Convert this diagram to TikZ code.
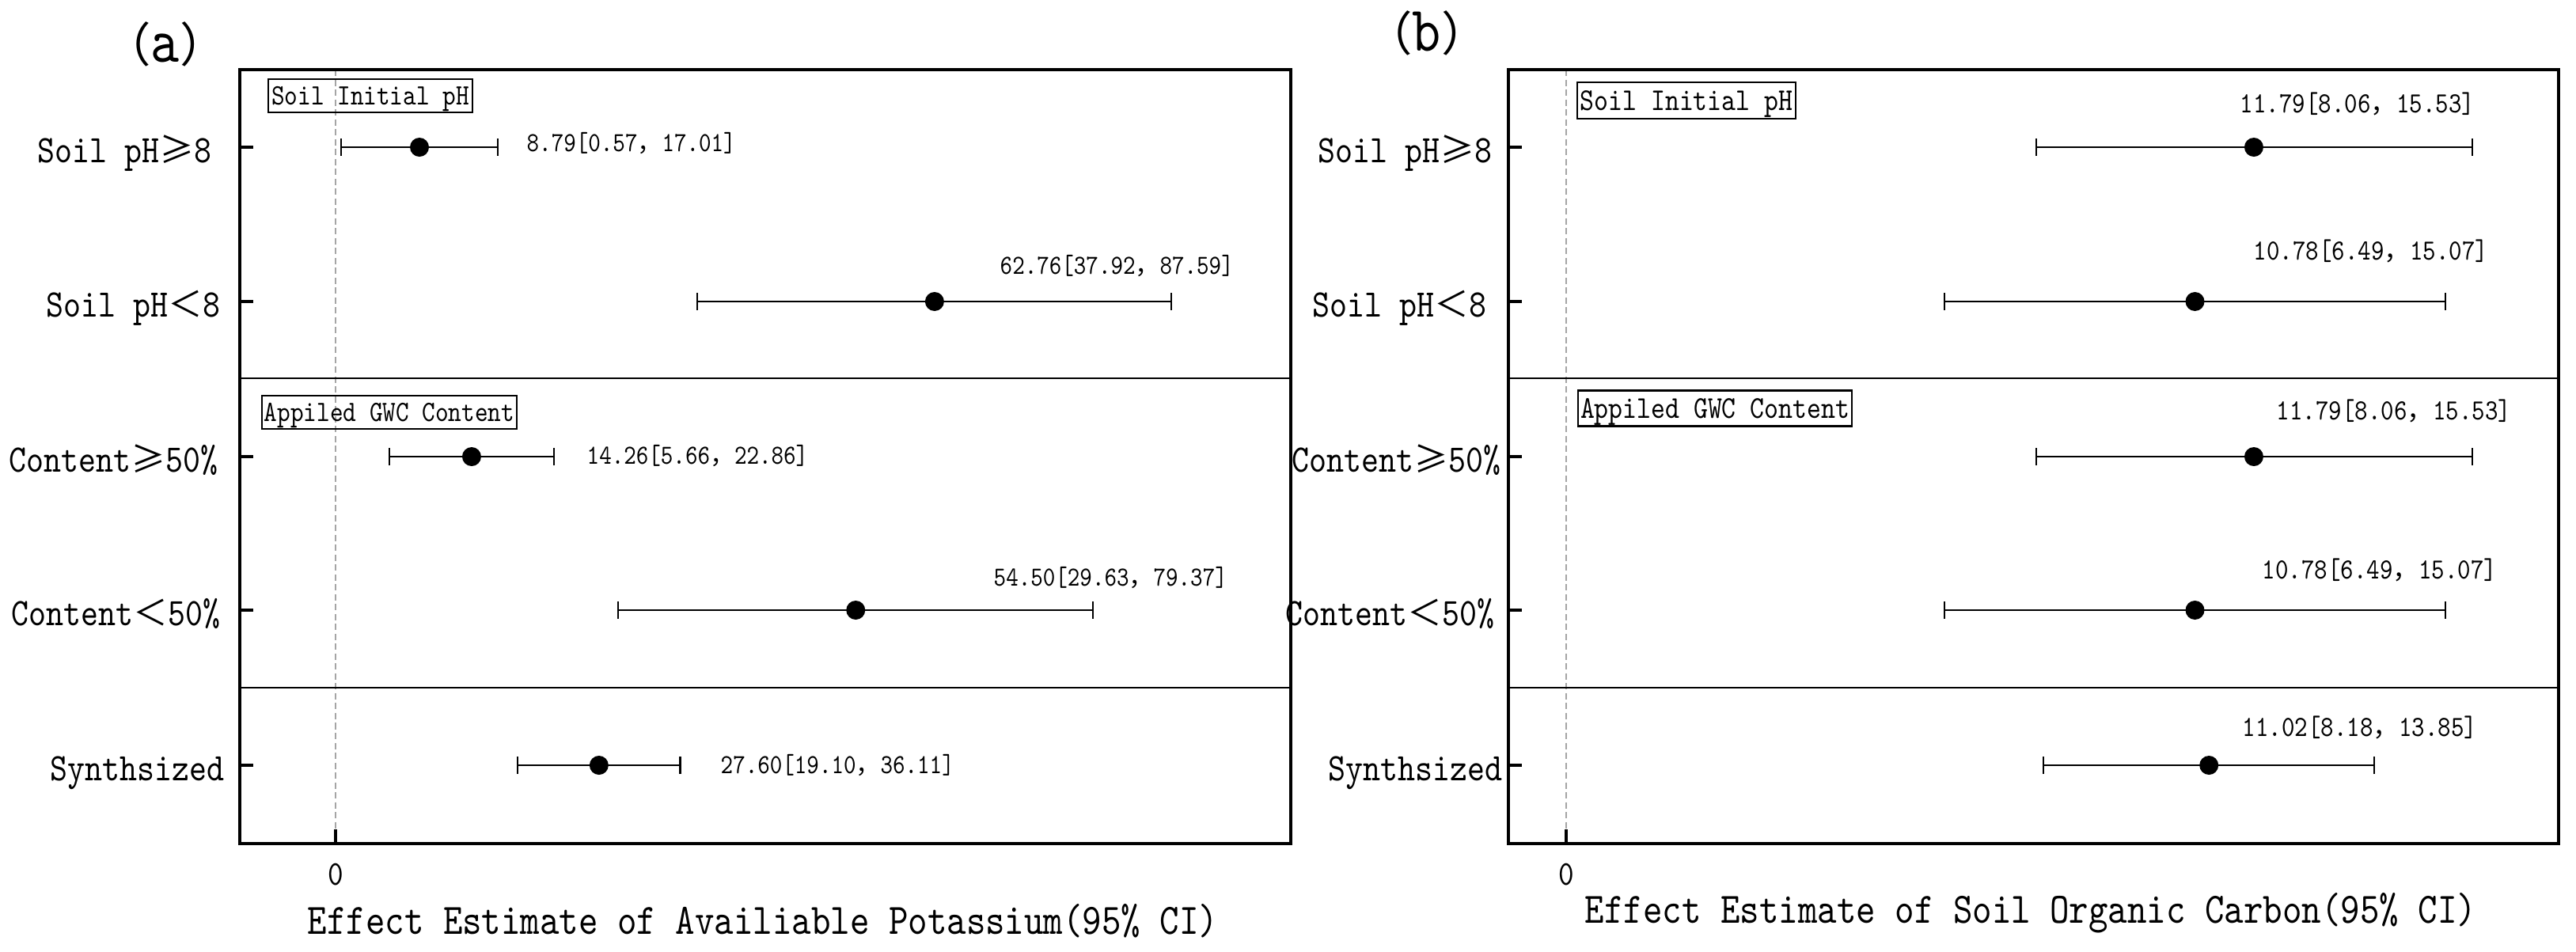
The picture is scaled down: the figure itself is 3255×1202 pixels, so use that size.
\documentclass[tikz,border=0pt]{standalone}
\usepackage{fontspec}
\newfontfamily\lmm{lmmono10-regular.otf}[FakeStretch=0.85]
\newfontfamily\cjk{Noto Sans CJK SC}[Scale=0.89]
\definecolor{zgray}{RGB}{165,165,165}
\newcommand\fs[1]{\fontsize{#1}{#1}\selectfont}
\newcommand\cm[1]{{\cjk #1}}
\tikzset{
  frame/.style={line width=1.14pt},
  sepline/.style={line width=0.7pt},
  ebar/.style={line width=0.6pt},
  ytick/.style={line width=1.14pt},
  zline/.style={draw=zgray, line width=0.55pt, dash pattern=on 0.08cm off 0.045cm},
  dot/.style={circle, fill=black, inner sep=0pt, minimum size=0.24cm},
  ylab/.style={anchor=base east, inner sep=0pt, font=\lmm\fs{14pt}},
  xlab/.style={anchor=base, inner sep=0pt, font=\lmm\fs{15.6pt}},
  zlab/.style={anchor=base, inner sep=0pt, font=\lmm\fs{12.5pt}},
  vala/.style={anchor=base west, inner sep=0pt, font=\lmm\fs{9.9pt}},
  valb/.style={anchor=base west, inner sep=0pt, font=\lmm\fs{10.5pt}},
  boxa/.style={draw, line width=0.6pt, inner sep=0pt, text depth=0pt, font=\lmm\fs{10.6pt}},
  boxb/.style={draw, line width=0.6pt, inner sep=0pt, text depth=0pt, font=\lmm\fs{11.4pt}},
  plab/.style={inner sep=0pt},
}
\begin{document}
\begin{tikzpicture}[x=0.01cm,y=-0.01cm]
\useasboundingbox[fill=white] (0,0) rectangle (3255,1202);

% ================= Panel (a) =================
\node[plab] (pa) at (209,56) {{\cjk\fs{19pt}（}{\lmm\fs{23pt}a}{\cjk\fs{19pt}）}};
\coordinate (a0top) at (424,88);
\coordinate (a0bot) at (424,1047);
\draw[zline] (a0top) -- (a0bot);
\draw[frame] (303,88) rectangle (1631,1066);
\draw[sepline] (303,478) -- (1631,478);
\draw[sepline] (303,869) -- (1631,869);
\draw[ytick] (424,1048) -- (424,1066);
\foreach \y in {186,381,577,771,967} \draw[ytick] (303,\y) -- (320,\y);

\node[boxa, minimum width=2.58cm, minimum height=0.42cm] (abox1) at (468,121) {Soil Initial pH};
\node[boxa, minimum width=3.22cm, minimum height=0.42cm] (abox2) at (492,521) {Appiled GWC Content};

\node[ylab] (ay1) at (268,205) {Soil pH\cm{≥}8};
\node[ylab] (ay2) at (279,400) {Soil pH\cm{＜}8};
\node[ylab] (ay3) at (276,596) {Content\cm{≥}50\%};
\node[ylab] (ay4) at (279,790) {Content\cm{＜}50\%};
\node[ylab] (ay5) at (284,986) {Synthsized};

\foreach \lo/\m/\hi/\y [count=\i] in {0.57/8.79/17.01/186, 37.92/62.76/87.59/381, 5.66/14.26/22.86/577, 29.63/54.50/79.37/771, 19.10/27.60/36.11/967}{
  \coordinate (alo\i) at ({424+12.06*\lo},\y);
  \coordinate (ahi\i) at ({424+12.06*\hi},\y);
  \draw[ebar] (alo\i) -- (ahi\i);
  \draw[ebar] ([yshift=-0.11cm]alo\i) -- ([yshift=0.11cm]alo\i);
  \draw[ebar] ([yshift=-0.11cm]ahi\i) -- ([yshift=0.11cm]ahi\i);
  \node[dot] (adot\i) at ({424+12.06*\m},\y) {};
}
\node[vala] (av1) at (665,191) {8.79[0.57\cm{，}17.01]};
\node[vala] (av2) at (1263,346) {62.76[37.92\cm{，}87.59]};
\node[vala] (av3) at (741,586) {14.26[5.66\cm{，}22.86]};
\node[vala] (av4) at (1255,740) {54.50[29.63\cm{，}79.37]};
\node[vala] (av5) at (910,977) {27.60[19.10\cm{，}36.11]};

\node[zlab] (az) at (424,1118) {0};
\node[xlab] (ax) at (964,1180) {Effect Estimate of Availiable Potassium(95\% CI)};

% ================= Panel (b) =================
\node[plab] (pb) at (1803,42) {{\cjk\fs{19pt}（}{\lmm\fs{23pt}b}{\cjk\fs{19pt}）}};
\coordinate (b0top) at (1979,88);
\coordinate (b0bot) at (1979,1047);
\draw[zline] (b0top) -- (b0bot);
\draw[frame] (1906,88) rectangle (3233,1066);
\draw[sepline] (1906,478) -- (3233,478);
\draw[sepline] (1906,869) -- (3233,869);
\draw[ytick] (1979,1048) -- (1979,1066);
\foreach \y in {186,381,577,771,967} \draw[ytick] (1906,\y) -- (1923,\y);

\node[boxb, minimum width=2.76cm, minimum height=0.46cm] (bbox1) at (2131,127) {Soil Initial pH};
\node[boxb, minimum width=3.46cm, minimum height=0.45cm] (bbox2) at (2167,516) {Appiled GWC Content};

\node[ylab] (by1) at (1886,205) {Soil pH\cm{≥}8};
\node[ylab] (by2) at (1879,400) {Soil pH\cm{＜}8};
\node[ylab] (by3) at (1897,596) {Content\cm{≥}50\%};
\node[ylab] (by4) at (1889,790) {Content\cm{＜}50\%};
\node[ylab] (by5) at (1899,986) {Synthsized};

\foreach \lo/\m/\hi/\y [count=\i] in {8.06/11.79/15.53/186, 6.49/10.78/15.07/381, 8.06/11.79/15.53/577, 6.49/10.78/15.07/771, 8.18/11.02/13.85/967}{
  \coordinate (blo\i) at ({1979+73.7*\lo},\y);
  \coordinate (bhi\i) at ({1979+73.7*\hi},\y);
  \draw[ebar] (blo\i) -- (bhi\i);
  \draw[ebar] ([yshift=-0.11cm]blo\i) -- ([yshift=0.11cm]blo\i);
  \draw[ebar] ([yshift=-0.11cm]bhi\i) -- ([yshift=0.11cm]bhi\i);
  \node[dot] (bdot\i) at ({1979+73.7*\m},\y) {};
}
\node[valb] (bv1) at (2830,142) {11.79[8.06\cm{，}15.53]};
\node[valb] (bv2) at (2847,328) {10.78[6.49\cm{，}15.07]};
\node[valb] (bv3) at (2876,530) {11.79[8.06\cm{，}15.53]};
\node[valb] (bv4) at (2858,731) {10.78[6.49\cm{，}15.07]};
\node[valb] (bv5) at (2833,930) {11.02[8.18\cm{，}13.85]};

\node[zlab] (bz) at (1979,1118) {0};
\node[xlab] (bx) at (2566,1166) {Effect Estimate of Soil Organic Carbon(95\% CI)};
\end{tikzpicture}
\end{document}
